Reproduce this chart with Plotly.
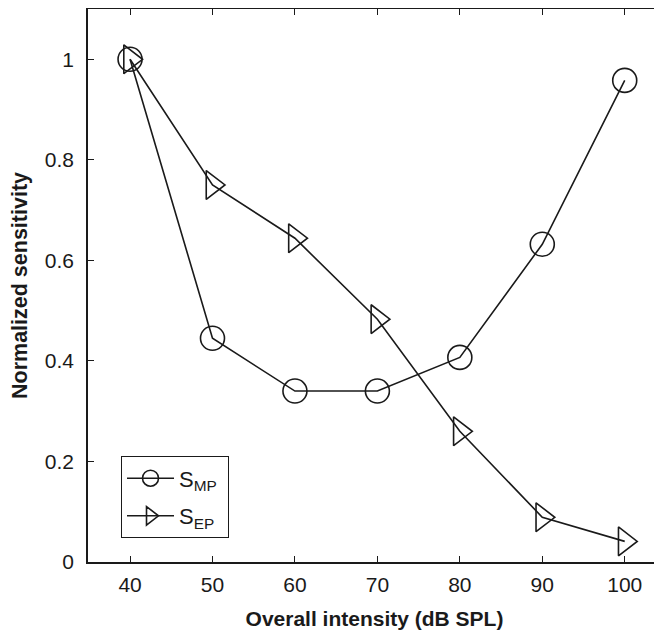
import plotly.graph_objects as go

intensity = [40, 50, 60, 70, 80, 90, 100]
s_mp = [1.0, 0.445, 0.340, 0.340, 0.407, 0.632, 0.958]
s_ep = [1.0, 0.75, 0.644, 0.483, 0.26, 0.089, 0.041]
x_ticks = [40, 50, 60, 70, 80, 90, 100]
y_ticks = [0, 0.2, 0.4, 0.6, 0.8, 1.0]
y_tick_text = ["0", "0.2", "0.4", "0.6", "0.8", "1"]

FONT = "Liberation Sans, Arial, sans-serif"
INK = "#1a1a1a"

fig = go.Figure()
fig.add_trace(go.Scatter(
    x=intensity, y=s_mp, mode="lines+markers", name="S<sub>MP</sub>&nbsp;",
    legendgroup="mp",
    line=dict(color=INK, width=1.6),
    marker=dict(symbol="circle-open", size=24, color=INK,
                line=dict(width=1.6, color=INK)),
))
fig.add_trace(go.Scatter(
    x=intensity, y=s_ep, mode="lines+markers", name="S<sub>EP</sub>&nbsp;",
    legendgroup="ep",
    line=dict(color=INK, width=1.6),
    marker=dict(symbol="triangle-right-open", size=25, color=INK,
                line=dict(width=1.6, color=INK)),
))

axis_common = dict(
    showline=True, linecolor=INK, linewidth=1.5, mirror="ticks",
    ticks="inside", ticklen=6, tickwidth=1, tickcolor=INK,
    showgrid=False, zeroline=False, automargin=False,
    tickfont=dict(family=FONT, size=21, color=INK),
)

fig.update_xaxes(
    range=[34.9, 104.4], tickvals=x_ticks,
    title=dict(text="<b>Overall intensity (dB SPL)</b>",
               font=dict(family=FONT, size=21, color=INK), standoff=16),
    ticklabelstandoff=3,
    **axis_common,
)
fig.update_yaxes(
    range=[0, 1.1], tickvals=y_ticks, ticktext=y_tick_text,
    title=dict(text="<b>Normalized sensitivity</b>",
               font=dict(family=FONT, size=21.5, color=INK), standoff=13),
    ticklabelstandoff=8,
    **axis_common,
)

# the page body adds an 8px offset, so the figure is 8px smaller and shifted
fig.update_layout(
    width=654, height=624,
    margin=dict(l=80, r=1, t=1, b=70, autoexpand=False),
    paper_bgcolor="white", plot_bgcolor="white",
    showlegend=True,
    legend=dict(
        x=0.0576, y=0.191, xanchor="left", yanchor="top",
        bordercolor=INK, borderwidth=1, bgcolor="white",
        font=dict(family=FONT, size=22, color=INK),
        itemwidth=47, tracegroupgap=6, traceorder="grouped",
    ),
)

fig.write_html("out.html")
